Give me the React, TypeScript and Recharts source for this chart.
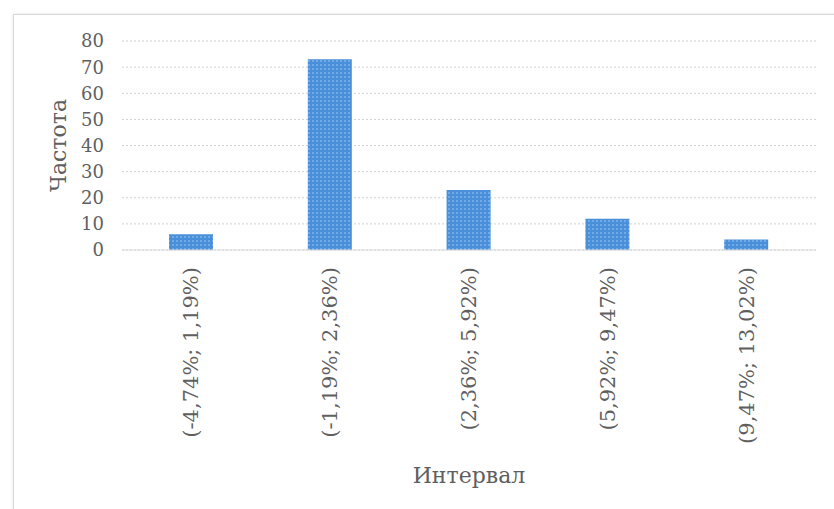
import { BarChart, Bar, XAxis, YAxis, CartesianGrid } from "recharts"

const intervals = ["(-4,74%; 1,19%)", "(-1,19%; 2,36%)", "(2,36%; 5,92%)", "(5,92%; 9,47%)", "(9,47%; 13,02%)"]
const freq = [6, 73, 23, 12, 4]
const yTicks = [0, 10, 20, 30, 40, 50, 60, 70, 80]

const data = intervals.map((name, i) => ({ name, freq: freq[i] }))

const FONT = "'DejaVu Serif', serif"
const GREY = "#5f5f5f"

// подписи интервалов повёрнуты на 90°
function IntervalTick({ x, y, payload }: any) {
  return (
    <text
      x={x}
      y={y}
      transform={`rotate(-90, ${x}, ${y})`}
      textAnchor="end"
      dominantBaseline="central"
      fill={GREY}
      fontSize={21}
      fontFamily={FONT}
    >
      {payload.value}
    </text>
  )
}

export default function App() {
  return (
    <div style={{ position: "absolute", left: 0, top: 0, width: 834, height: 509, overflow: "hidden", background: "#fff" }}>
      <div
        style={{
          position: "absolute",
          left: 13,
          top: 14,
          width: 900,
          height: 600,
          border: "1px solid #d9d9d9",
          boxShadow: "0 0 3px rgba(0,0,0,0.12)",
        }}
      />
      <BarChart
        width={834}
        height={509}
        data={data}
        margin={{ top: 41, right: 18, bottom: 0, left: 0 }}
        barSize={44}
        style={{ position: "absolute", left: 0, top: 0 }}
      >
        <defs>
          <pattern id="dots" width="4" height="4" patternUnits="userSpaceOnUse">
            <rect width="4" height="4" fill="#4a8fd9" />
            <circle cx="1" cy="1" r="0.8" fill="#a3cdf2" />
          </pattern>
        </defs>
        <CartesianGrid vertical={false} stroke="#d0d0d0" strokeDasharray="2 2" />
        <XAxis
          dataKey="name"
          height={259}
          axisLine={{ stroke: "#d9d9d9" }}
          tickLine={false}
          interval={0}
          tickMargin={11}
          tick={<IntervalTick />}
          label={{
            value: "Интервал",
            position: "insideBottom",
            offset: 26,
            fill: GREY,
            fontSize: 22,
            fontFamily: FONT,
          }}
        />
        <YAxis
          width={122}
          domain={[0, 80]}
          ticks={yTicks}
          axisLine={false}
          tickLine={false}
          tickMargin={12}
          tick={{ fill: GREY, fontSize: 18, fontFamily: FONT }}
          label={{
            value: "Частота",
            angle: -90,
            position: "insideLeft",
            offset: 58,
            fill: GREY,
            fontSize: 22,
            fontFamily: FONT,
            style: { textAnchor: "middle" },
          }}
        />
        <Bar dataKey="freq" fill="url(#dots)" isAnimationActive={false} />
      </BarChart>
    </div>
  )
}
